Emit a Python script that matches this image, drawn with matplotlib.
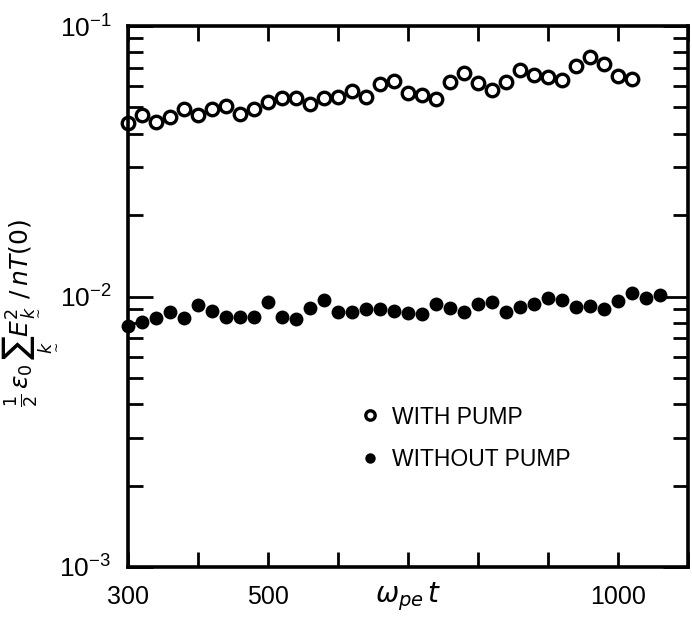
import matplotlib
matplotlib.use('Agg')
import matplotlib.pyplot as plt
from matplotlib.ticker import LogLocator, FixedLocator, FixedFormatter, NullFormatter

plt.rcParams['font.family'] = ['Liberation Sans', 'DejaVu Sans']

# time (omega_pe t) and normalised field energy
t_pump = [300, 320, 340, 360, 380, 400, 420, 440, 460, 480, 500, 520, 540,
          560, 580, 600, 620, 640, 660, 680, 700, 720, 740, 760, 780, 800,
          820, 840, 860, 880, 900, 920, 940, 960, 980, 1000, 1020]
w_pump = [0.0439, 0.0469, 0.0443, 0.0460, 0.0492, 0.0470, 0.0492, 0.0507,
          0.0475, 0.0493, 0.0525, 0.0543, 0.0540, 0.0513, 0.0540, 0.0545,
          0.0576, 0.0548, 0.0610, 0.0626, 0.0564, 0.0556, 0.0537, 0.0622,
          0.0668, 0.0614, 0.0580, 0.0622, 0.0688, 0.0659, 0.0646, 0.0631,
          0.0711, 0.0770, 0.0724, 0.0653, 0.0638]

t_nopump = [300, 320, 340, 360, 380, 400, 420, 440, 460, 480, 500, 520, 540,
            560, 580, 600, 620, 640, 660, 680, 700, 720, 740, 760, 780, 800,
            820, 840, 860, 880, 900, 920, 940, 960, 980, 1000, 1020, 1040, 1060]
w_nopump = [0.00777, 0.00806, 0.00834, 0.00878, 0.00830, 0.00929, 0.00886,
            0.00841, 0.00841, 0.00837, 0.00956, 0.00837, 0.00823, 0.00908,
            0.00970, 0.00878, 0.00873, 0.00896, 0.00896, 0.00886, 0.00866,
            0.00859, 0.00937, 0.00904, 0.00873, 0.00935, 0.00951, 0.00878,
            0.00911, 0.00935, 0.00984, 0.00970, 0.00911, 0.00922, 0.00898,
            0.00964, 0.01027, 0.00989, 0.01012]

x_ticks = [300, 400, 500, 600, 700, 800, 900, 1000, 1100]
x_ticklabels = ['300', '', '500', '', '', '', '', '1000', '']

fig = plt.figure(figsize=(6.92, 6.21), dpi=100)
ax = fig.add_axes([0.185, 0.087, 0.809, 0.871])

ax.plot(t_pump, w_pump, 'o', ms=9, mfc='white', mec='black', mew=2.4,
        clip_on=False, label='WITH PUMP')
ax.plot(t_nopump, w_nopump, 'o', ms=10, mfc='black', mec='black', mew=0,
        clip_on=False, label='WITHOUT PUMP')

ax.set_yscale('log')
ax.set_ylim(1e-3, 1e-1)
ax.set_xlim(300, 1100)

ax.xaxis.set_major_locator(FixedLocator(x_ticks))
ax.xaxis.set_major_formatter(FixedFormatter(x_ticklabels))
ax.yaxis.set_major_locator(LogLocator(base=10))
ax.yaxis.set_minor_locator(LogLocator(base=10, subs=range(2, 10)))
ax.yaxis.set_minor_formatter(NullFormatter())

ax.tick_params(axis='both', which='both', direction='in', top=True, right=True,
               width=2, colors='black')
ax.tick_params(axis='x', which='major', length=11, pad=13, labelsize=18)
ax.tick_params(axis='y', which='major', length=18, pad=12, labelsize=19)
ax.tick_params(axis='y', which='minor', length=11)

for s in ax.spines.values():
    s.set_linewidth(2.6)

ax.set_xlabel(r'$\omega_{pe}\,t$', fontsize=20)
ax.xaxis.set_label_coords(0.5, -0.025)
ax.set_ylabel(r'$\frac{1}{2}\,\epsilon_0\,\sum_{\underset{\sim}{k}} E^{2}_{\underset{\sim}{k}}\;/\,nT(0)$',
              fontsize=18)
ax.yaxis.set_label_coords(-0.125, 0.47)

ax.legend(frameon=False, loc='center left', bbox_to_anchor=(0.415, 0.238),
          fontsize=16.5, markerscale=0.75, handlelength=0.8, handletextpad=0.6,
          labelspacing=0.85, borderpad=0, borderaxespad=0)

fig.savefig('out.png', dpi=100)
